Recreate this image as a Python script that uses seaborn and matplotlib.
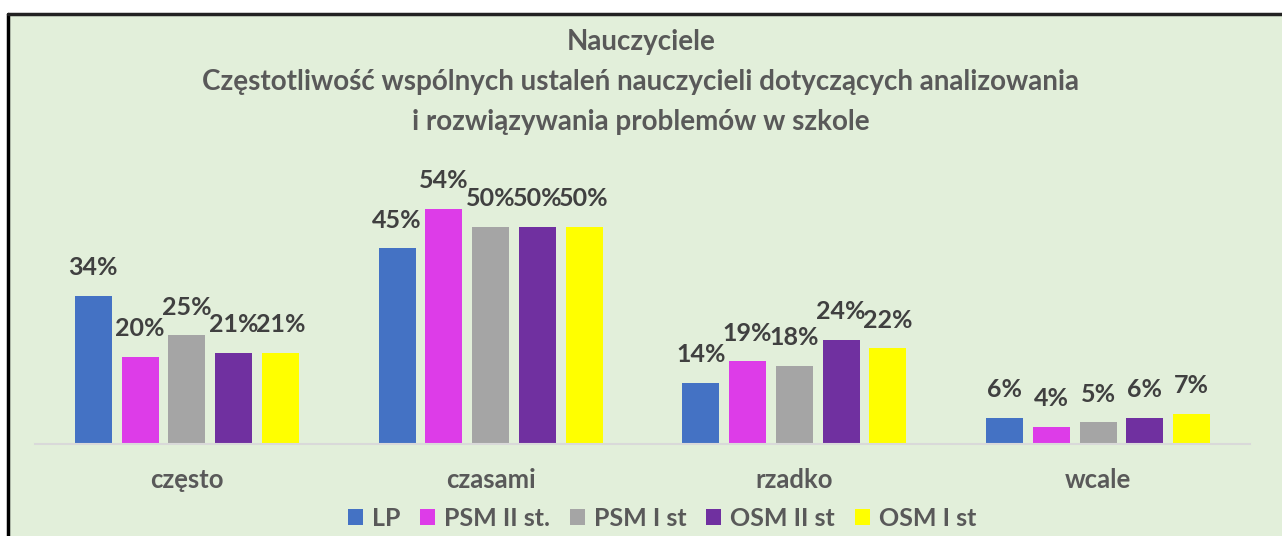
import numpy as np
import pandas as pd
import seaborn as sns
import matplotlib.pyplot as plt
from matplotlib.patches import Rectangle

categories = ['często', 'czasami', 'rzadko', 'wcale']
groups = ['LP', 'PSM II st.', 'PSM I st', 'OSM II st', 'OSM I st']
lp = [34, 45, 14, 6]
psm2 = [20, 54, 19, 4]
psm1 = [25, 50, 18, 5]
osm2 = [21, 50, 24, 6]
osm1 = [21, 50, 22, 7]
colors = ['#4472C4', '#DD3CE8', '#A5A5A5', '#7030A0', '#FFFF00']
title = ('Nauczyciele\n'
         'Częstotliwość wspólnych ustaleń nauczycieli dotyczących analizowania\n'
         'i rozwiązywania problemów w szkole')

rows = []
for g, vals in zip(groups, [lp, psm2, psm1, osm2, osm1]):
    for c, v in zip(categories, vals):
        rows.append({'kategoria': c, 'grupa': g, 'procent': v})
df = pd.DataFrame(rows)

sns.set_style('white')
plt.rcParams['font.family'] = ['Lato', 'DejaVu Sans']
bg = '#E2EFDA'

fig = plt.figure(figsize=[12.82, 5.36], dpi=100)
fig.patch.set_facecolor('white')
# green chart area with black border on top/left
fig.patches.append(Rectangle((8 / 1282, 0), 1.0, 1 - 15 / 536, transform=fig.transFigure,
                             facecolor=bg, edgecolor='none', zorder=-5))
fig.add_artist(plt.Line2D([7.5 / 1282, 7.5 / 1282], [0, 1 - 14 / 536], color='black', lw=2.5,
                          transform=fig.transFigure, zorder=-4))
fig.add_artist(plt.Line2D([7.5 / 1282, 1], [1 - 14 / 536, 1 - 14 / 536], color='#222222', lw=2.5,
                          transform=fig.transFigure, zorder=-4))

ax = fig.add_axes([35 / 1282, (536 - 444) / 536, (1250 - 35) / 1282, 261 / 536])
ax.set_zorder(2)
ax.set_facecolor('none')
sns.barplot(data=df, x='kategoria', y='procent', hue='grupa', palette=colors,
            width=0.77, gap=0.21, ax=ax, legend=True, saturation=1, linewidth=0)
ax.set_xlim(-0.5, 3.5)
ax.set_ylim(0, 60)
ax.set_yticks([])
ax.set_xlabel('')
ax.set_ylabel('')
for s in ['top', 'right', 'left']:
    ax.spines[s].set_visible(False)
ax.spines['bottom'].set_color('#D9D9D9')
ax.spines['bottom'].set_linewidth(1.5)
ax.tick_params(axis='x', length=0, pad=17, labelsize=18.5, labelcolor='#595959')
for lab in ax.get_xticklabels():
    lab.set_fontweight('bold')

for cont in ax.containers:
    ax.bar_label(cont, labels=[f'{v:.0f}%' for v in cont.datavalues], padding=12,
                 fontsize=18, fontweight='bold', color='#404040')

leg = ax.legend(loc='center', bbox_to_anchor=(0.516, -0.285), ncol=5, frameon=False,
                fontsize=18, handlelength=0.6, handleheight=0.6, handletextpad=0.35,
                columnspacing=0.8)
for t in leg.get_texts():
    t.set_fontweight('bold')
    t.set_color('#595959')

fig.text(0.5, 1 - 82 / 536, title, ha='center', va='center', fontsize=20,
         fontweight='bold', color='#595959', linespacing=1.65)

fig.savefig('out.png', dpi=100, facecolor=fig.get_facecolor())
